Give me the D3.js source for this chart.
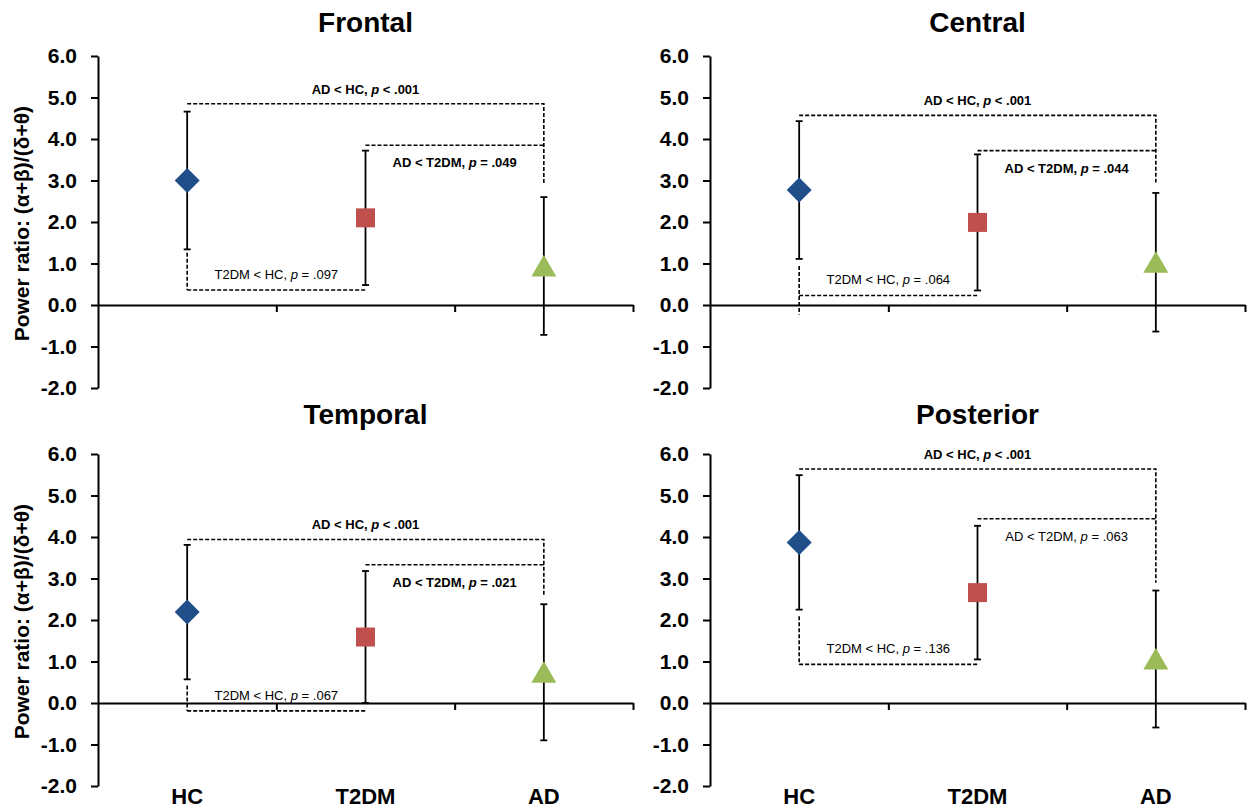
<!DOCTYPE html>
<html lang="en">
<head>
<meta charset="utf-8">
<style>
  body { margin: 0; background: #fff; }
  svg text { font-family: "Liberation Sans", Arial, sans-serif; fill: #000; }
  .axis path, .axis line { stroke: #000; stroke-width: 2px; }
  .axis text { font-size: 21px; font-weight: bold; }
  .dash { fill: none; stroke: #000; stroke-width: 1.6px; stroke-dasharray: 4,2; }
  .err { stroke: #000; stroke-width: 1.8px; }
</style>
<script src="https://cdn.jsdelivr.net/npm/d3@7"></script>
</head>
<body>
<svg width="1248" height="808"></svg>
<script>
// ---- data ----
var categories = ["HC", "T2DM", "AD"];
var regions = ["Frontal", "Central", "Temporal", "Posterior"];
var yTicks = [-2, -1, 0, 1, 2, 3, 4, 5, 6];

// group means (HC, T2DM, AD) per region
var means = [
    [3.00, 2.10, 0.94],
    [2.77, 1.99, 1.03],
    [2.19, 1.59, 0.74],
    [3.87, 2.66, 1.06]
];
// half length of error bars
var errors = [
    [1.66, 1.62, 1.66],
    [1.66, 1.64, 1.67],
    [1.62, 1.59, 1.64],
    [1.62, 1.61, 1.65]
];

// comparison brackets (in data units)
var adHcLevel = [4.85, 4.57, 3.94, 5.64];
var adT2Level = [3.85, 3.72, 3.33, 4.44];
var adDrop = [2.91, 2.95, 2.58, 2.90];
var t2HcLevel = [0.36, 0.23, -0.19, 0.93];
var t2HcStart = [1.26, 0.94, 0.42, 2.09];
var t2HcEnd = [0.36, -0.23, -0.19, 0.93];

var pAdHc = ["< .001", "< .001", "< .001", "< .001"];
var pAdT2 = ["= .049", "= .044", "= .021", "= .063"];
var pT2Hc = ["= .097", "= .064", "= .067", "= .136"];
var sigAdT2 = [true, true, true, false];

var colors = ["#1F4E89", "#C0504D", "#9BBB59"];

// ---- layout ----
var svg = d3.select("svg");
var panelW = 535, panelH = 332;
var panelX = [98, 710, 98, 710];
var panelY = [56, 56, 454, 454];

regions.forEach(function(name, r) {
    var g = svg.append("g")
        .attr("transform", "translate(" + panelX[r] + "," + panelY[r] + ")");

    var y = d3.scaleLinear().domain([-2, 6]).range([panelH, 0]);
    var x = d3.scaleBand().domain(categories).range([0, panelW]);
    var xl = d3.scaleLinear().domain([0, 3]).range([0, panelW]);
    var cx = function(c) { return x(c) + x.bandwidth() / 2; };

    // title
    g.append("text")
        .attr("x", cx("T2DM"))
        .attr("y", r < 2 ? -24 : -30)
        .attr("text-anchor", "middle")
        .style("font-size", "28px")
        .style("font-weight", "bold")
        .text(name);

    // y axis
    g.append("g")
        .attr("class", "axis")
        .call(d3.axisLeft(y)
            .tickValues(yTicks)
            .tickSize(7)
            .tickSizeOuter(0)
            .tickPadding(14)
            .tickFormat(function(d) { return d.toFixed(1); }));

    // x axis along zero
    g.append("g")
        .attr("class", "axis")
        .attr("transform", "translate(0," + y(0) + ")")
        .call(d3.axisBottom(xl)
            .tickValues([1, 2, 3])
            .tickSize(7)
            .tickSizeOuter(0)
            .tickFormat(""));

    if (r % 2 == 0) {
        g.append("text")
            .attr("transform", "translate(" + (29 - panelX[r]) + "," + y(1.96) + ") rotate(-90)")
            .attr("text-anchor", "middle")
            .style("font-size", "21px")
            .style("font-weight", "bold")
            .text("Power ratio:  (α+β)/(δ+θ)");
    }
    if (r >= 2) {
        g.selectAll(".cat")
            .data(categories)
            .enter().append("text")
            .attr("x", cx)
            .attr("y", panelH + 18)
            .attr("text-anchor", "middle")
            .style("font-size", "22px")
            .style("font-weight", "bold")
            .text(function(d) { return d; });
    }

    // brackets
    var hx = cx("HC"), tx = cx("T2DM"), ax = cx("AD");
    g.append("path").attr("class", "dash")
        .attr("d", "M" + hx + "," + y(adHcLevel[r]) + "H" + ax + "V" + y(adDrop[r]));
    g.append("path").attr("class", "dash")
        .attr("d", "M" + tx + "," + y(adT2Level[r]) + "H" + ax);
    g.append("path").attr("class", "dash")
        .attr("d", "M" + hx + "," + y(t2HcStart[r]) + "V" + y(t2HcEnd[r]) +
            "M" + hx + "," + y(t2HcLevel[r]) + "H" + tx);

    function label(xp, yp, lead, p, bold) {
        var t = g.append("text")
            .attr("x", xp)
            .attr("y", yp)
            .attr("text-anchor", "middle")
            .style("font-size", "13px")
            .style("font-weight", bold ? "bold" : "normal");
        t.append("tspan").text(lead + ", ");
        t.append("tspan").style("font-style", "italic").text("p");
        t.append("tspan").text(" " + p);
    }
    label(tx, y(adHcLevel[r]) - 10, "AD < HC", pAdHc[r], true);
    label((tx + ax) / 2, y(adT2Level[r]) + 22, "AD < T2DM", pAdT2[r], sigAdT2[r]);
    label((hx + tx) / 2, y(t2HcLevel[r]) - 11, "T2DM < HC", pT2Hc[r], false);

    // error bars
    categories.forEach(function(c, i) {
        var m = means[r][i], e = errors[r][i];
        var eg = g.append("g").attr("class", "err");
        eg.append("line").attr("x1", cx(c)).attr("x2", cx(c))
            .attr("y1", y(m - e)).attr("y2", y(m + e));
        eg.append("line").attr("x1", cx(c) - 3.5).attr("x2", cx(c) + 3.5)
            .attr("y1", y(m + e)).attr("y2", y(m + e));
        eg.append("line").attr("x1", cx(c) - 3.5).attr("x2", cx(c) + 3.5)
            .attr("y1", y(m - e)).attr("y2", y(m - e));
    });

    // markers
    var px = cx("HC"), py = y(means[r][0]);
    g.append("path")
        .attr("d", "M" + px + "," + (py - 12.5) + "L" + (px + 12.5) + "," + py +
            "L" + px + "," + (py + 12.5) + "L" + (px - 12.5) + "," + py + "Z")
        .attr("fill", colors[0]);
    g.append("rect")
        .attr("x", cx("T2DM") - 9.5).attr("y", y(means[r][1]) - 9.5)
        .attr("width", 19).attr("height", 19)
        .attr("fill", colors[1]);
    var qx = cx("AD"), qy = y(means[r][2]);
    g.append("path")
        .attr("d", "M" + qx + "," + (qy - 11) + "L" + (qx + 12.5) + "," + (qy + 10.5) +
            "L" + (qx - 12.5) + "," + (qy + 10.5) + "Z")
        .attr("fill", colors[2]);
});
</script>
</body>
</html>
